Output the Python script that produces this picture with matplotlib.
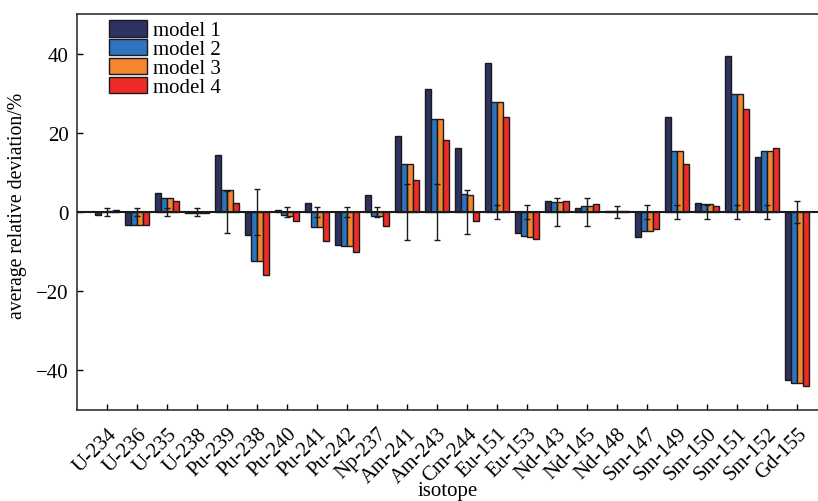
import numpy as np
import matplotlib
matplotlib.use("Agg")
import matplotlib.pyplot as plt

plt.rcParams['font.family'] = ['Liberation Serif', 'DejaVu Serif']

isotopes = ["U-234", "U-236", "U-235", "U-238", "Pu-239", "Pu-238", "Pu-240",
            "Pu-241", "Pu-242", "Np-237", "Am-241", "Am-243", "Cm-244", "Eu-151",
            "Eu-153", "Nd-143", "Nd-145", "Nd-148", "Sm-147", "Sm-149", "Sm-150",
            "Sm-151", "Sm-152", "Gd-155"]

model1 = [-0.8, -3.2, 4.9, -0.2, 14.3, -5.8, 0.4, 2.2, -8.3, 4.3, 19.1, 31.1,
          16.1, 37.7, -5.4, 2.9, 1.0, 0.3, -6.4, 24.0, 2.2, 39.4, 14.0, -42.4]
model2 = [0.1, -3.3, 3.5, -0.3, 5.5, -12.4, -0.8, -3.9, -8.6, -1.1, 12.2, 23.5,
          4.6, 27.8, -6.1, 2.6, 1.6, 0.3, -4.9, 15.3, 1.9, 29.7, 15.5, -43.3]
model3 = [0.3, -3.3, 3.5, -0.3, 5.5, -12.4, -1.0, -3.9, -8.7, -1.1, 12.2, 23.5,
          4.4, 27.8, -6.2, 2.6, 1.6, 0.3, -4.9, 15.3, 1.9, 29.7, 15.4, -43.3]
model4 = [0.4, -3.4, 2.7, -0.2, 2.2, -15.8, -2.3, -7.3, -10.2, -3.5, 8.1, 18.1,
          -2.3, 24.1, -6.8, 2.7, 1.9, 0.3, -4.2, 12.0, 1.6, 26.0, 16.1, -43.9]
# measurement uncertainty, drawn around zero
uncert = [1.1, 1.1, 1.1, 1.1, 5.2, 5.9, 1.3, 1.3, 1.3, 1.3, 7.0, 7.0,
          5.5, 1.7, 1.8, 3.5, 3.5, 1.5, 1.7, 1.8, 1.8, 1.8, 1.8, 2.7]

labels = ["model 1", "model 2", "model 3", "model 4"]
colors = ["#2e3262", "#2d74bd", "#f3862f", "#ee2b27"]

fig = plt.figure(figsize=(8.18, 5.02), dpi=100)
ax = fig.add_axes([77/818, 1-411/502, 741/818, (411-15)/502])

x = np.arange(len(isotopes))
w = 0.2
series = [model1, model2, model3, model4]
for i, vals in enumerate(series):
    ax.bar(x + (i - 1.5)*w, vals, w, color=colors[i], edgecolor="#1a1a1a",
           linewidth=1.0, label=labels[i], zorder=2)

ax.axhline(0, color="#1a1a1a", lw=1.5, zorder=3)
ax.errorbar(x, np.zeros(len(x)), yerr=uncert, fmt="none", ecolor="#1a1a1a",
            elinewidth=1.0, capsize=2.5, capthick=1.0, zorder=4)

ax.set_xlim(-1.0, 23.7)
ax.set_ylim(-50, 50)
ax.set_yticks([-40, -20, 0, 20, 40])
ax.set_yticklabels(["\u221240", "\u221220", "0", "20", "40"])
ax.set_xticks(x)
ax.set_xticklabels(isotopes, rotation=45, ha="right", rotation_mode="anchor")
ax.tick_params(direction="in", labelsize=15, length=4, width=1)
ax.tick_params(axis="x", pad=10)
ax.tick_params(axis="y", pad=6)
ax.spines["right"].set_visible(False)
for s in ["left", "top", "bottom"]:
    ax.spines[s].set_linewidth(1.2)
    ax.spines[s].set_color("#333333")

ax.set_xlabel("isotope", fontsize=15)
ax.xaxis.set_label_coords(0.5, -0.18)
ax.set_ylabel("average relative deviation/%", fontsize=14.2)
ax.yaxis.set_label_coords(-0.067, 0.518)

leg = ax.legend(loc="upper left", bbox_to_anchor=(0.043, 0.985), frameon=False,
                fontsize=15, handlelength=1.85, handleheight=0.85,
                labelspacing=-0.08, handletextpad=0.25, borderpad=0.0,
                borderaxespad=0.0)

fig.savefig("out.png", dpi=100)
